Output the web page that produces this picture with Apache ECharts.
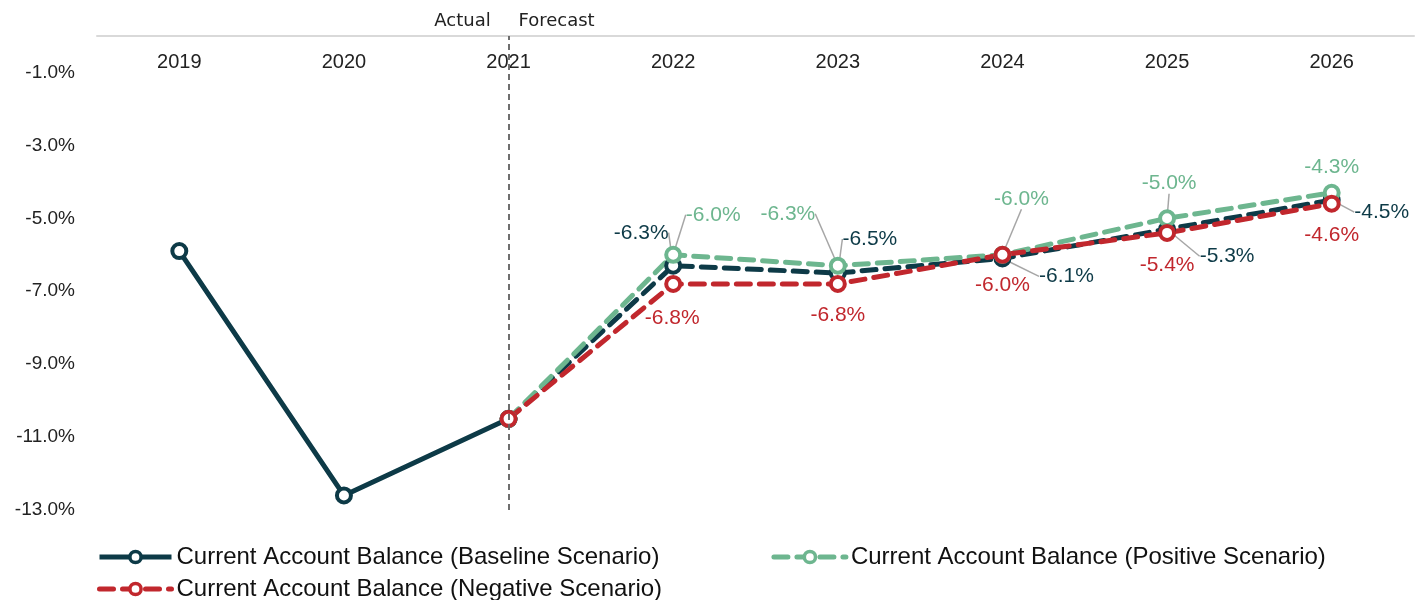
<!DOCTYPE html>
<html>
<head>
<meta charset="utf-8">
<style>
  html, body { margin: 0; padding: 0; background: #fff; }
  #main { width: 1416px; height: 600px; }
</style>
<script src="https://cdn.jsdelivr.net/npm/echarts@6/dist/echarts.min.js"></script>
</head>
<body>
<div id="main"></div>
<script>
// 年份（类目轴）
const years = ['2019', '2020', '2021', '2022', '2023', '2024', '2025', '2026']
// 实际值（基准情景，实线部分）
const baselineActual = [-5.9, -12.6, -10.5, null, null, null, null, null]
// 预测值
const baselineForecast = [null, null, -10.5, -6.3, -6.5, -6.1, -5.3, -4.5]
const positiveForecast = [null, null, -10.5, -6.0, -6.3, -6.0, -5.0, -4.3]
const negativeForecast = [null, null, -10.5, -6.8, -6.8, -6.0, -5.4, -4.6]

const nameBase = 'Current Account Balance (Baseline Scenario)'
const namePos = 'Current Account Balance (Positive Scenario)'
const nameNeg = 'Current Account Balance (Negative Scenario)'

const cBase = '#0d3a47'
const cPos = '#6db68f'
const cNeg = '#c1272d'

// 标签相对于数据点的偏移（样式），null 表示不显示标签
const offBase = [null, null, null, [-32, -33], [32, -34], [64, 18], [60, 27], [50, 12]]
const offPos = [null, null, null, [40, -40], [-50, -52], [19, -56], [2, -35], [0, -26]]
const offNeg = [null, null, null, [-1, 34], [0, 31], [0, 30], [0, 32], [0, 31]]
// 需要引导线的点
const lineBase = [3, 4, 5, 6, 7]
const linePos = [3, 4, 5, 6]

const labelFont = 'Liberation Sans'

function buildData(arr, offs, lineIdx) {
  return arr.map((v, i) => ({
    value: v,
    label: { show: !!offs[i] },
    labelLine: { show: lineIdx.indexOf(i) >= 0 }
  }))
}

function forecastSeries(name, data, color, offs, lineIdx) {
  return {
    name: name,
    type: 'line',
    data: buildData(data, offs, lineIdx),
    symbol: 'circle',
    symbolSize: 14,
    showAllSymbol: true,
    lineStyle: { color: color, width: 5, type: [14, 9], cap: 'round' },
    itemStyle: { color: '#fff', borderColor: color, borderWidth: 4 },
    label: {
      show: true,
      position: 'inside',
      color: color,
      fontFamily: labelFont,
      fontSize: 21,
      textBorderWidth: 0,
      formatter: p => p.value.toFixed(1) + '%'
    },
    labelLine: {
      show: true,
      lineStyle: { color: '#a6a6a6', width: 1.5 }
    },
    labelLayout: function (params) {
      const o = offs[params.dataIndex]
      if (!o) return {}
      return { dx: o[0], dy: o[1] }
    },
    z: 3
  }
}

// 图例的公共样式
const legendCommon = {
  left: 92,
  itemWidth: 72,
  itemHeight: 14,
  lineStyle: { width: 5 },
  itemStyle: { borderWidth: 3.5 },
  textStyle: { fontFamily: 'Liberation Sans', fontSize: 24, color: '#111' }
}

// 竖线上方的文字样式
const noteStyle = { fontFamily: 'DejaVu Sans', fontSize: 18, color: '#222' }

const chart = echarts.init(document.getElementById('main'))
chart.setOption({
  animation: false,
  grid: { left: 97, right: 2, top: 36, bottom: 90 },
  legend: [
    Object.assign({ data: [nameBase, namePos], top: 540, itemGap: 112 }, legendCommon),
    Object.assign({ data: [nameNeg], top: 572 }, legendCommon)
  ],
  xAxis: {
    type: 'category',
    data: years,
    position: 'top',
    axisLine: { lineStyle: { color: '#d9d9d9', width: 2 } },
    axisTick: { show: false },
    axisLabel: {
      inside: true,
      margin: 16,
      fontFamily: labelFont,
      fontSize: 20,
      color: '#222'
    }
  },
  yAxis: {
    type: 'value',
    min: -13,
    max: 0,
    interval: 2,
    axisLine: { show: false },
    axisTick: { show: false },
    splitLine: { show: false },
    axisLabel: {
      showMaxLabel: false,
      margin: 22,
      fontFamily: labelFont,
      fontSize: 19,
      color: '#222',
      formatter: v => v === 0 ? '' : v.toFixed(1) + '%'
    }
  },
  series: [
    {
      name: nameBase,
      type: 'line',
      data: baselineActual,
      symbol: 'circle',
      symbolSize: 14,
      lineStyle: { color: cBase, width: 5 },
      itemStyle: { color: '#fff', borderColor: cBase, borderWidth: 4 },
      z: 2,
      markLine: {
        silent: true,
        symbol: 'none',
        lineStyle: { color: '#666', width: 1.5, type: [6, 4] },
        label: {
          show: true,
          position: 'end',
          distance: 6
        },
        data: [
          { xAxis: '2021', label: Object.assign({ formatter: 'Actual', offset: [-46, 0] }, noteStyle) },
          { xAxis: '2021', label: Object.assign({ formatter: 'Forecast', offset: [48, 0] }, noteStyle) }
        ]
      }
    },
    forecastSeries(nameBase, baselineForecast, cBase, offBase, lineBase),
    forecastSeries(namePos, positiveForecast, cPos, offPos, linePos),
    forecastSeries(nameNeg, negativeForecast, cNeg, offNeg, [])
  ]
})
</script>
</body>
</html>
